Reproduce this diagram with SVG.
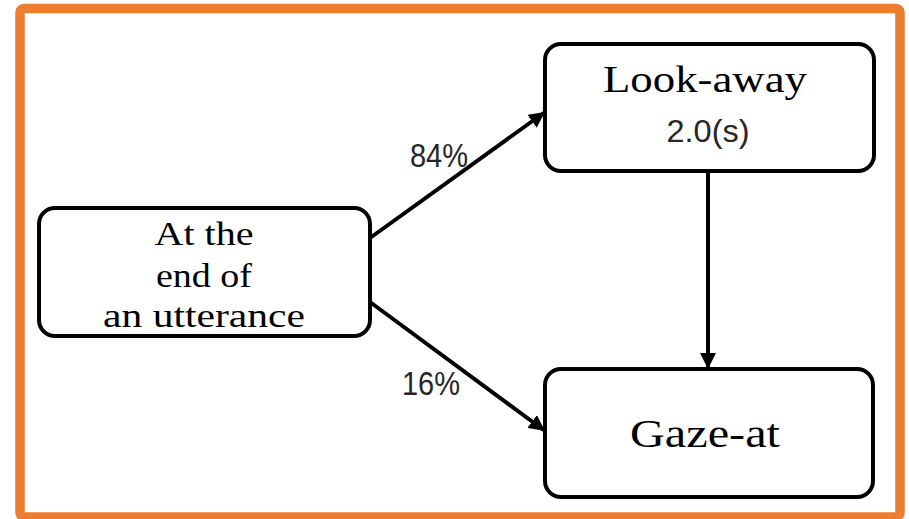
<svg xmlns="http://www.w3.org/2000/svg" width="909" height="519" viewBox="0 0 909 519">
<style>
.box{fill:#fff;stroke:#000;stroke-width:4}
.serif{font-family:"Liberation Serif","DejaVu Serif",serif;fill:#000;text-anchor:middle}
.sans{font-family:"Liberation Sans","DejaVu Sans",sans-serif;fill:#262626;text-anchor:middle}
.edge{stroke:#000;stroke-width:4;fill:none;marker-end:url(#ah)}
</style>
<defs>
<marker id="ah" markerUnits="userSpaceOnUse" markerWidth="18" markerHeight="16" refX="16" refY="8" orient="auto">
<path d="M0,0 L16,8 L0,16 Z" fill="#000"/>
</marker>
</defs>
<rect x="0" y="0" width="909" height="519" fill="#fff"/>
<rect x="20" y="8.5" width="880" height="508.5" rx="4" fill="#fff" stroke="#ED7D31" stroke-width="9.5"/>
<g id="connectors">
<line class="edge" x1="370" y1="238" x2="545" y2="112"/>
<line class="edge" x1="370" y1="302" x2="545" y2="431"/>
<line class="edge" x1="708" y1="172" x2="708" y2="369"/>
<text class="sans" x="439" y="167" font-size="33" textLength="58" lengthAdjust="spacingAndGlyphs">84%</text>
<text class="sans" x="431" y="395" font-size="33" textLength="58" lengthAdjust="spacingAndGlyphs">16%</text>
</g>
<g id="node-utterance">
<rect class="box" x="39" y="208" width="331" height="128" rx="16"/>
<text class="serif" x="204" y="245" font-size="33" textLength="99" lengthAdjust="spacingAndGlyphs">At the</text>
<text class="serif" x="204" y="287" font-size="33" textLength="96" lengthAdjust="spacingAndGlyphs">end of</text>
<text class="serif" x="204" y="327" font-size="33" textLength="202" lengthAdjust="spacingAndGlyphs">an utterance</text>
</g>
<g id="node-lookaway">
<rect class="box" x="545" y="44" width="329" height="127" rx="16"/>
<text class="serif" x="705" y="92" font-size="38" textLength="204" lengthAdjust="spacingAndGlyphs">Look-away</text>
<text class="sans" x="708" y="142" font-size="32" textLength="83" lengthAdjust="spacingAndGlyphs">2.0(s)</text>
</g>
<g id="node-gazeat">
<rect class="box" x="545" y="369" width="328" height="128" rx="16"/>
<text class="serif" x="705" y="447" font-size="40" textLength="150" lengthAdjust="spacingAndGlyphs">Gaze-at</text>
</g>
</svg>
